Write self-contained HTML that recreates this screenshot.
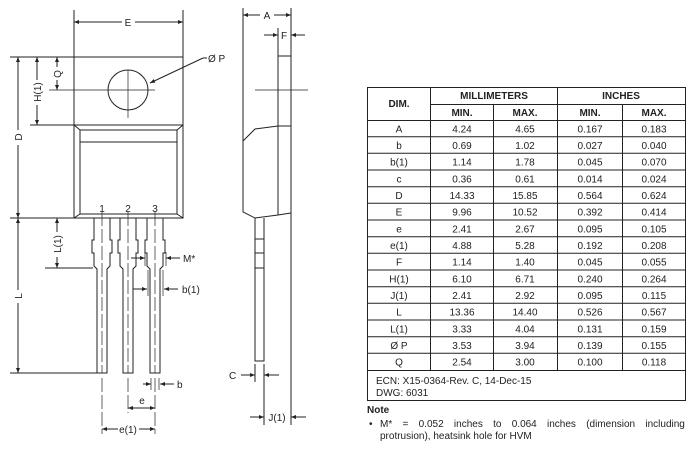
<!DOCTYPE html>
<html><head><meta charset="utf-8"><style>
html,body{margin:0;padding:0;background:#fff}
svg{display:block}
text{font-family:"Liberation Sans",sans-serif;font-size:10px;fill:#222}
.t text{text-anchor:middle}
.b{font-weight:bold}
</style></head><body>
<svg width="692" height="449" viewBox="0 0 692 449">
<defs>
<marker id="a" viewBox="0 0 10 10" refX="10" refY="5" markerWidth="7" markerHeight="5" orient="auto-start-reverse" markerUnits="userSpaceOnUse"><path d="M0,1 L10,5 L0,9 z" fill="#222"/></marker>
</defs>
<g stroke="#222" stroke-width="1" fill="none">
<rect x="74" y="57" width="109" height="68"/>
<circle cx="128" cy="90" r="20"/>
<line x1="128" y1="70" x2="128" y2="118" stroke-width="0.7"/>
<line x1="49" y1="90" x2="155" y2="90" stroke-width="0.7"/>
<rect x="74" y="125" width="109" height="93"/>
<rect x="80" y="130" width="97" height="84"/>
<line x1="74" y1="125" x2="80" y2="130"/><line x1="183" y1="125" x2="177" y2="130"/>
<line x1="74" y1="218" x2="80" y2="214"/><line x1="183" y1="218" x2="177" y2="214"/>
<line x1="80" y1="142" x2="177" y2="142"/>
<g id="ld">
<path d="M94,218 V240 H92 V253 H94 V266 L97,269 V373 H107 V269 L110,266 V253 H112 V240 H110 V218"/>
<line x1="102" y1="212" x2="102" y2="373" stroke-width="0.7" stroke-dasharray="14,3"/>
</g>
<use href="#ld" x="26"/><use href="#ld" x="53"/>
<line x1="102" y1="378" x2="102" y2="434" stroke-width="0.7" stroke-dasharray="14,3"/>
<line x1="128" y1="378" x2="128" y2="413" stroke-width="0.7" stroke-dasharray="14,3"/>
<line x1="155" y1="378" x2="155" y2="434" stroke-width="0.7" stroke-dasharray="14,3"/>
<line x1="74" y1="10" x2="74" y2="57"/><line x1="183" y1="10" x2="183" y2="57"/>
<line x1="10" y1="57" x2="74" y2="57"/><line x1="30" y1="125" x2="74" y2="125"/>
<line x1="10" y1="218" x2="74" y2="218"/><line x1="45" y1="268" x2="93" y2="268"/>
<line x1="10" y1="373" x2="97" y2="373"/>
<line x1="74" y1="22" x2="122" y2="22" marker-start="url(#a)"/><line x1="135" y1="22" x2="183" y2="22" marker-end="url(#a)"/>
<line x1="18" y1="57" x2="18" y2="130" marker-start="url(#a)"/><line x1="18" y1="145" x2="18" y2="218" marker-end="url(#a)"/>
<line x1="37" y1="57" x2="37" y2="80" marker-start="url(#a)"/><line x1="37" y1="105" x2="37" y2="125" marker-end="url(#a)"/>
<line x1="57" y1="57" x2="57" y2="67" marker-start="url(#a)"/><line x1="57" y1="80" x2="57" y2="90" marker-end="url(#a)"/>
<line x1="18" y1="218" x2="18" y2="290" marker-start="url(#a)"/><line x1="18" y1="303" x2="18" y2="373" marker-end="url(#a)"/>
<line x1="57" y1="218" x2="57" y2="232" marker-start="url(#a)"/><line x1="57" y1="257" x2="57" y2="268" marker-end="url(#a)"/>
<line x1="150" y1="83" x2="203" y2="58" marker-start="url(#a)"/><line x1="203" y1="58" x2="207" y2="58"/>
<line x1="131" y1="258" x2="145" y2="258" marker-end="url(#a)"/><line x1="145" y1="252" x2="145" y2="266" stroke-width="0.7"/>
<line x1="180" y1="258" x2="166" y2="258" marker-end="url(#a)"/><line x1="166" y1="252" x2="166" y2="266" stroke-width="0.7"/>
<line x1="133" y1="289" x2="147" y2="289" marker-end="url(#a)"/><line x1="148" y1="270" x2="148" y2="296" stroke-width="0.7"/>
<line x1="178" y1="289" x2="164" y2="289" marker-end="url(#a)"/><line x1="163" y1="270" x2="163" y2="296" stroke-width="0.7"/>
<line x1="143" y1="384" x2="151" y2="384" marker-end="url(#a)"/><line x1="151" y1="378" x2="151" y2="390" stroke-width="0.7"/>
<line x1="174" y1="384" x2="160" y2="384" marker-end="url(#a)"/><line x1="159" y1="378" x2="159" y2="390" stroke-width="0.7"/>
<line x1="128" y1="408" x2="155" y2="408" marker-start="url(#a)" marker-end="url(#a)"/>
<line x1="102" y1="429" x2="118" y2="429" marker-start="url(#a)"/><line x1="139" y1="429" x2="155" y2="429" marker-end="url(#a)"/>
<line x1="243" y1="8" x2="243" y2="141"/>
<line x1="291" y1="8" x2="291" y2="425"/>
<line x1="278" y1="28" x2="278" y2="215"/>
<line x1="278" y1="56" x2="291" y2="56"/><line x1="278" y1="126" x2="291" y2="126"/>
<line x1="255" y1="90" x2="308" y2="90" stroke-width="0.7"/>
<path d="M243,141 L255,129 L278,126"/>
<path d="M243,141 V212 L255,218 L278,215 L291,213"/>
<path d="M255,218 V361 H264 V218"/>
<line x1="255" y1="239" x2="264" y2="239"/><line x1="255" y1="253" x2="264" y2="253"/><line x1="255" y1="268" x2="264" y2="268"/>
<line x1="255" y1="364" x2="255" y2="382"/><line x1="264" y1="364" x2="264" y2="425"/>
<line x1="243" y1="15" x2="260" y2="15" marker-start="url(#a)"/><line x1="274" y1="15" x2="291" y2="15" marker-end="url(#a)"/>
<line x1="264" y1="35" x2="278" y2="35" marker-end="url(#a)"/><line x1="305" y1="35" x2="291" y2="35" marker-end="url(#a)"/>
<line x1="241" y1="375" x2="255" y2="375" marker-end="url(#a)"/><line x1="279" y1="375" x2="264" y2="375" marker-end="url(#a)"/>
<line x1="250" y1="417" x2="264" y2="417" marker-end="url(#a)"/><line x1="306" y1="417" x2="291" y2="417" marker-end="url(#a)"/>
</g>
<text x="128" y="26" text-anchor="middle">E</text>
<text x="208" y="62">Ø P</text>
<text transform="translate(22,137) rotate(-90)" text-anchor="middle">D</text>
<text transform="translate(41,92) rotate(-90)" text-anchor="middle">H(1)</text>
<text transform="translate(61,74) rotate(-90)" text-anchor="middle">Q</text>
<text transform="translate(22,296) rotate(-90)" text-anchor="middle">L</text>
<text transform="translate(61,244) rotate(-90)" text-anchor="middle">L(1)</text>
<text x="102" y="212" text-anchor="middle">1</text>
<text x="128" y="212" text-anchor="middle">2</text>
<text x="155" y="212" text-anchor="middle">3</text>
<text x="183" y="262">M*</text>
<text x="182" y="293">b(1)</text>
<text x="177" y="388">b</text>
<text x="142" y="404" text-anchor="middle">e</text>
<text x="128" y="433" text-anchor="middle">e(1)</text>
<text x="267" y="19" text-anchor="middle">A</text>
<text x="284" y="39" text-anchor="middle">F</text>
<text x="229" y="379">C</text>
<text x="277" y="421" text-anchor="middle">J(1)</text>
<g stroke="#222" stroke-width="1" fill="none">
<rect x="367.5" y="87.5" width="318" height="313"/>
<line x1="430.5" y1="87" x2="430.5" y2="370"/>
<line x1="557.5" y1="87" x2="557.5" y2="370"/>
<line x1="493.5" y1="104" x2="493.5" y2="370"/>
<line x1="622.5" y1="104" x2="622.5" y2="370"/>
<line x1="430" y1="104.5" x2="686" y2="104.5"/>
<path d="M367,120.5H686M367,136.7H686M367,153.3H686M367,170H686M367,186.7H686M367,203.3H686M367,220H686M367,236.7H686M367,253.3H686M367,270H686M367,286.7H686M367,303.3H686M367,320H686M367,336.7H686M367,353.3H686M367,370.5H686"/>
</g>
<g class="t">
<text x="399" y="107" class="b">DIM.</text>
<text x="494" y="99" class="b">MILLIMETERS</text>
<text x="621" y="99" class="b">INCHES</text>
<text x="462" y="116" class="b">MIN.</text><text x="525" y="116" class="b">MAX.</text>
<text x="590" y="116" class="b">MIN.</text><text x="654" y="116" class="b">MAX.</text>
</g>
<g class="t">
<g transform="translate(0,132.3)"><text x="399">A</text><text x="462">4.24</text><text x="525">4.65</text><text x="590">0.167</text><text x="654">0.183</text></g>
<g transform="translate(0,149)"><text x="399">b</text><text x="462">0.69</text><text x="525">1.02</text><text x="590">0.027</text><text x="654">0.040</text></g>
<g transform="translate(0,165.6)"><text x="399">b(1)</text><text x="462">1.14</text><text x="525">1.78</text><text x="590">0.045</text><text x="654">0.070</text></g>
<g transform="translate(0,182.3)"><text x="399">c</text><text x="462">0.36</text><text x="525">0.61</text><text x="590">0.014</text><text x="654">0.024</text></g>
<g transform="translate(0,199)"><text x="399">D</text><text x="462">14.33</text><text x="525">15.85</text><text x="590">0.564</text><text x="654">0.624</text></g>
<g transform="translate(0,215.6)"><text x="399">E</text><text x="462">9.96</text><text x="525">10.52</text><text x="590">0.392</text><text x="654">0.414</text></g>
<g transform="translate(0,232.3)"><text x="399">e</text><text x="462">2.41</text><text x="525">2.67</text><text x="590">0.095</text><text x="654">0.105</text></g>
<g transform="translate(0,249)"><text x="399">e(1)</text><text x="462">4.88</text><text x="525">5.28</text><text x="590">0.192</text><text x="654">0.208</text></g>
<g transform="translate(0,265.6)"><text x="399">F</text><text x="462">1.14</text><text x="525">1.40</text><text x="590">0.045</text><text x="654">0.055</text></g>
<g transform="translate(0,282.3)"><text x="399">H(1)</text><text x="462">6.10</text><text x="525">6.71</text><text x="590">0.240</text><text x="654">0.264</text></g>
<g transform="translate(0,299)"><text x="399">J(1)</text><text x="462">2.41</text><text x="525">2.92</text><text x="590">0.095</text><text x="654">0.115</text></g>
<g transform="translate(0,315.6)"><text x="399">L</text><text x="462">13.36</text><text x="525">14.40</text><text x="590">0.526</text><text x="654">0.567</text></g>
<g transform="translate(0,332.3)"><text x="399">L(1)</text><text x="462">3.33</text><text x="525">4.04</text><text x="590">0.131</text><text x="654">0.159</text></g>
<g transform="translate(0,349)"><text x="399">Ø P</text><text x="462">3.53</text><text x="525">3.94</text><text x="590">0.139</text><text x="654">0.155</text></g>
<g transform="translate(0,365.6)"><text x="399">Q</text><text x="462">2.54</text><text x="525">3.00</text><text x="590">0.100</text><text x="654">0.118</text></g>
</g>
<text x="376" y="384">ECN: X15-0364-Rev. C, 14-Dec-15</text>
<text x="376" y="396">DWG: 6031</text>
<text x="367" y="413" class="b">Note</text>
<text x="369" y="427">•</text>
<text x="380" y="427" word-spacing="7.5">M* = 0.052 inches to 0.064 inches (dimension including</text>
<text x="380" y="439">protrusion), heatsink hole for HVM</text>
</svg>
</body></html>
